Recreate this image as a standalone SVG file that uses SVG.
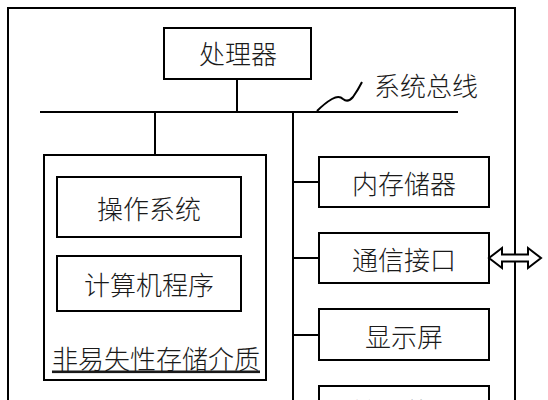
<svg xmlns="http://www.w3.org/2000/svg" width="548" height="400" viewBox="0 0 548 400">
<style>
.box{fill:none;stroke:#000;stroke-width:2}
.ln{fill:none;stroke:#000;stroke-width:2}
.t{font-family:"Noto Sans CJK SC","Noto Sans",sans-serif;font-size:26px;font-weight:300;fill:#1a1a1a;text-anchor:middle;dominant-baseline:central}
</style>
<rect width="548" height="400" fill="#fff"/>
<g id="frame"><rect class="box" x="8" y="8" width="507" height="420"/></g>
<g id="connectors">
<line class="ln" x1="237" y1="79" x2="237" y2="112"/>
<line class="ln" x1="40" y1="112" x2="458" y2="112"/>
<line class="ln" x1="155" y1="112" x2="155" y2="155"/>
<line class="ln" x1="293" y1="112" x2="293" y2="420"/>
<line class="ln" x1="293" y1="182" x2="319" y2="182"/>
<line class="ln" x1="293" y1="258" x2="319" y2="258"/>
<line class="ln" x1="293" y1="335" x2="319" y2="335"/>
<line class="ln" x1="293" y1="411" x2="319" y2="411"/>
<path class="ln" d="M317,111 Q325,103 332,99 Q339,95 343,99 Q348,103 353,97 Q358,90 362,82"/>
<path d="M489,258 L502,248 L502,254.5 L528,254.5 L528,248 L541,258 L528,268 L528,261.5 L502,261.5 L502,268 Z" fill="#fff" stroke="#000" stroke-width="2" stroke-linejoin="miter"/>
</g>
<g id="processor"><rect class="box" x="164" y="28" width="147" height="51"/><text class="t" x="238" y="52">处理器</text></g>
<g id="bus-label"><text class="t" x="374" y="84" style="text-anchor:start">系统总线</text></g>
<g id="nvstorage"><rect class="box" x="44" y="155" width="222" height="225"/><text class="t" x="156" y="357" text-decoration="underline">非易失性存储介质</text></g>
<g id="os"><rect class="box" x="57" y="177" width="184" height="60"/><text class="t" x="149" y="207">操作系统</text></g>
<g id="program"><rect class="box" x="57" y="256" width="184" height="55"/><text class="t" x="149" y="283">计算机程序</text></g>
<g id="memory"><rect class="box" x="319" y="157" width="170" height="50"/><text class="t" x="404" y="182">内存储器</text></g>
<g id="comm"><rect class="box" x="319" y="233" width="170" height="50"/><text class="t" x="404" y="258">通信接口</text></g>
<g id="display"><rect class="box" x="319" y="309" width="170" height="51"/><text class="t" x="404" y="335">显示屏</text></g>
<g id="input"><rect class="box" x="319" y="386" width="170" height="50"/><text class="t" x="404" y="410">输入装置</text></g>
</svg>
